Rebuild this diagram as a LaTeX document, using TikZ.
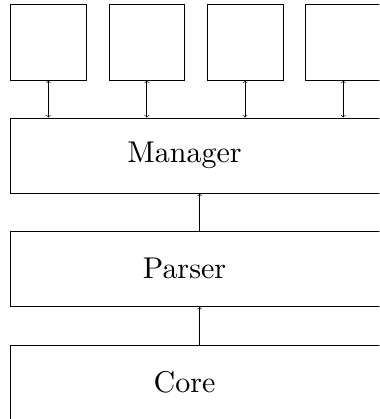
\documentclass[tikz,border=0pt]{standalone}
\usepackage{tikz}

\begin{document}
\begin{tikzpicture}[
    module/.style={rectangle, draw, minimum width=2cm, minimum height=2cm},
    layer/.style={rectangle, draw, minimum width=10cm, minimum height=2cm},
    layertext/.style={scale=2.26}]
    \useasboundingbox (0,0) rectangle (10.03,-11.08);
    \clip (0,0) rectangle (10.03,-11.08);

    % Modules
    \node[module] (M1) at (1.28,-1.125) {};
    \node[module] (M2) at (3.88,-1.125) {};
    \node[module] (M3) at (6.48,-1.125) {};
    \node[module] (M4) at (9.08,-1.125) {};

    % Layers
    \node[layer] (MAN) at (5.28,-4.115) {};
    \node[layer] (PAR) at (5.28,-7.11) {};
    \node[layer] (CORE) at (5.28,-10.12) {};
    \node[layertext] (MANtxt) at (4.88,-4.115) {Manager};
    \node[layertext] (PARtxt) at (4.88,-7.11) {Parser};
    \node[layertext] (COREtxt) at (4.88,-10.12) {Core};

    % Connections
    \draw[<->] (M1.south) -- (M1.south |- MAN.north);
    \draw[<->] (M2.south) -- (M2.south |- MAN.north);
    \draw[<->] (M3.south) -- (M3.south |- MAN.north);
    \draw[<->] (M4.south) -- (M4.south |- MAN.north);
    \draw[->] (PAR) -- (MAN);
    \draw[->] (CORE) -- (PAR);
\end{tikzpicture}
\end{document}
